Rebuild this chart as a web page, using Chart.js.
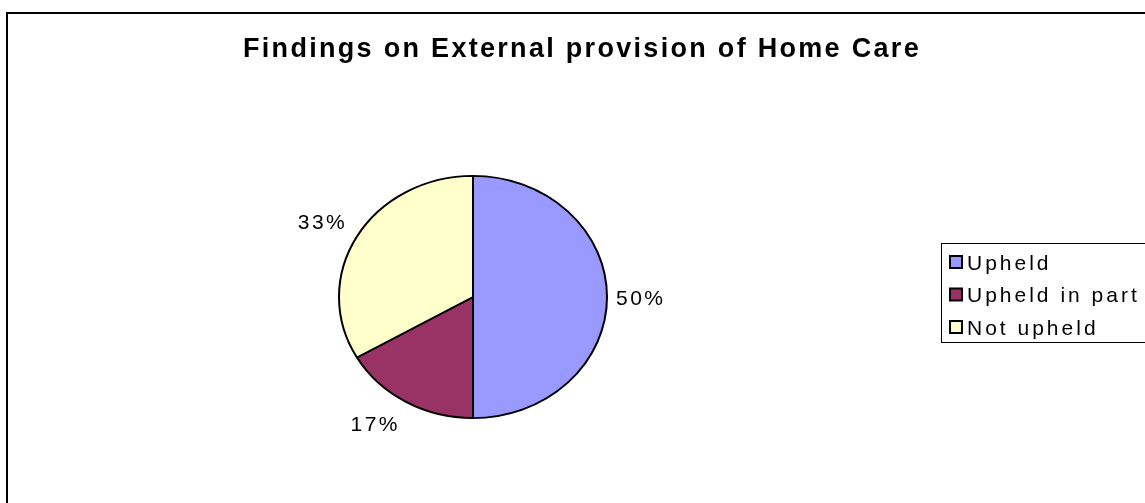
<!DOCTYPE html>
<html>
<head>
<meta charset="utf-8">
<title>Findings on External provision of Home Care</title>
<script src="https://cdn.jsdelivr.net/npm/chart.js@4/dist/chart.umd.min.js"></script>
<style>
  html, body { margin: 0; padding: 0; background: #fff; }
  canvas { display: block; }
</style>
</head>
<body>
<canvas id="myChart" width="1145" height="503"></canvas>
<script>
'use strict';

var chartTitle = 'Findings on External provision of Home Care';
var labels = ['Upheld', 'Upheld in part', 'Not upheld'];
var values = [3, 1, 2];
var backgroundColors = [
    "rgb(153,153,255)",
    "rgb(153,51,102)",
    "rgb(255,255,204)"
];

var FONT = '"Liberation Sans", Arial, sans-serif';
var cx = 473, cy = 297, rx = 135, ry = 122;

// squash the pie a little so it comes out oval like the original
var ovalPlugin = {
    id: 'oval',
    beforeDatasetsDraw: function (chart) {
        var ctx = chart.ctx;
        ctx.save();
        ctx.translate(cx, cy);
        ctx.scale(1, ry / rx);
        ctx.translate(-cx, -cy);
    },
    afterDatasetsDraw: function (chart) {
        chart.ctx.restore();
    }
};

var decoPlugin = {
    id: 'deco',
    beforeDraw: function (chart) {
        var ctx = chart.ctx;
        ctx.save();
        ctx.fillStyle = '#fff';
        ctx.fillRect(0, 0, chart.width, chart.height);
        // outer frame (only left/top visible)
        ctx.strokeStyle = '#000';
        ctx.lineWidth = 2;
        ctx.beginPath();
        ctx.moveTo(7, chart.height + 2);
        ctx.lineTo(7, 13);
        ctx.lineTo(chart.width + 2, 13);
        ctx.stroke();
        ctx.restore();
    },
    afterDraw: function (chart) {
        var ctx = chart.ctx;
        ctx.save();

        // title
        ctx.fillStyle = '#000';
        ctx.font = 'bold 27px ' + FONT;
        ctx.letterSpacing = '2.3px';
        ctx.textAlign = 'left';
        ctx.textBaseline = 'alphabetic';
        ctx.fillText(chartTitle, 243, 56.5);

        // percentage labels
        var meta = chart.getDatasetMeta(0);
        var total = values.reduce(function (a, b) { return a + b; }, 0);
        ctx.font = '21px ' + FONT;
        ctx.letterSpacing = '2.5px';
        ctx.textAlign = 'center';
        for (var i = 0; i < meta.data.length; i++) {
            var arc = meta.data[i];
            var mid = (arc.startAngle + arc.endAngle) / 2;
            var dx = Math.cos(mid), dy = Math.sin(mid);
            var px = cx + rx * dx + dx * 9;
            var py = cy + ry * dy + dy * 9;
            var txt = Math.round(values[i] / total * 100) + '%';
            var hw = ctx.measureText(txt).width / 2;
            var hh = dy > 0 ? 13 : 10;
            if (Math.abs(dx) > 0.1) px += (dx > 0 ? hw : -hw);
            if (Math.abs(dy) > 0.1) py += (dy > 0 ? hh : -hh);
            ctx.fillText(txt, px - 1, py + 7.5);
        }

        // legend
        ctx.strokeStyle = '#000';
        ctx.lineWidth = 1;
        ctx.strokeRect(941.5, 243.5, 240, 99);
        ctx.textAlign = 'left';
        ctx.font = '21px ' + FONT;
        ctx.letterSpacing = '3px';
        var rows = [262, 294.5, 327];
        for (var j = 0; j < labels.length; j++) {
            ctx.fillStyle = backgroundColors[j];
            ctx.fillRect(950, rows[j] - 6, 12, 12);
            ctx.lineWidth = 2;
            ctx.strokeRect(950, rows[j] - 6, 12, 12);
            ctx.fillStyle = '#000';
            ctx.fillText(labels[j], 967, rows[j] + 7.5);
        }
        ctx.restore();
    }
};

var config = {
    type: 'pie',
    data: {
        labels: labels,
        datasets: [{
            data: values,
            backgroundColor: backgroundColors,
            borderColor: '#000',
            borderWidth: 2
        }]
    },
    options: {
        responsive: false,
        animation: false,
        layout: {
            padding: { left: 338, right: 537, top: 162, bottom: 71 }
        },
        plugins: {
            legend: { display: false },
            title: { display: false },
            tooltip: { enabled: false }
        }
    },
    plugins: [decoPlugin, ovalPlugin]
};

var ctx = document.getElementById("myChart").getContext("2d");
window.myPie = new Chart(ctx, config);
</script>
</body>
</html>
